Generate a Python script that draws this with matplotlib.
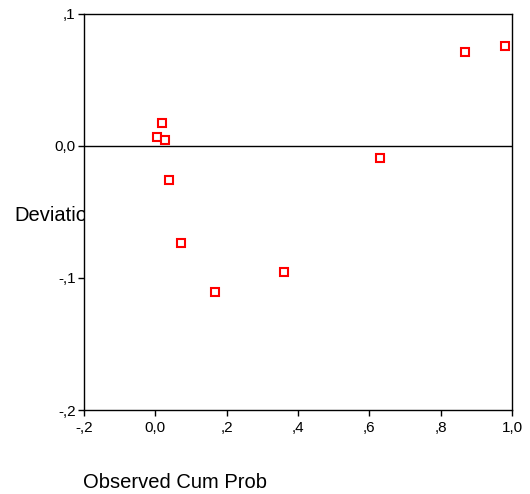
import matplotlib
matplotlib.use("Agg")
import matplotlib.pyplot as plt

plt.rcParams['font.family'] = ['Liberation Sans', 'DejaVu Sans']

# observed cumulative probability vs deviation
obs_cum_prob = [0.006, 0.018, 0.026, 0.038, 0.071, 0.167, 0.361, 0.630, 0.869, 0.980]
deviation = [0.0066, 0.017, 0.0045, -0.0255, -0.0735, -0.1108, -0.0957, -0.0091, 0.0712, 0.0755]

x_ticks = [-0.2, 0.0, 0.2, 0.4, 0.6, 0.8, 1.0]
x_labels = ["-,2", "0,0", ",2", ",4", ",6", ",8", "1,0"]
y_ticks = [-0.2, -0.1, 0.0, 0.1]
y_labels = ["-,2", "-,1", "0,0", ",1"]

fig = plt.figure(figsize=(5.3, 4.94), dpi=100)
ax = fig.add_axes([0.1585, 0.170, 0.8075, 0.802])

ax.axhline(0, color='black', linewidth=1.0, zorder=1)
ax.plot(obs_cum_prob, deviation, linestyle='none', marker='s', markersize=5.2,
        markerfacecolor='white', markeredgecolor='#ff0000', markeredgewidth=1.5, zorder=3)

ax.set_xlim(-0.2, 1.0)
ax.set_ylim(-0.2, 0.1)
ax.set_xticks(x_ticks)
ax.set_xticklabels(x_labels)
ax.set_yticks(y_ticks)
ax.set_yticklabels(y_labels)
ax.tick_params(direction='out', length=4, width=1, labelsize=11)
ax.tick_params(axis='x', pad=4)
ax.tick_params(axis='y', pad=2)
for s in ax.spines.values():
    s.set_linewidth(1.0)
    s.set_color('black')

# y label sits behind the plot area, so it gets cut off like in the original
fig.text(14 / 530, 1 - 215 / 494, "Deviation", fontsize=14.5, ha='left', va='center', zorder=-1)
fig.text(83 / 530, 1 - 482 / 494, "Observed Cum Prob", fontsize=14.5, ha='left', va='center')

fig.savefig("out.png", dpi=100)
